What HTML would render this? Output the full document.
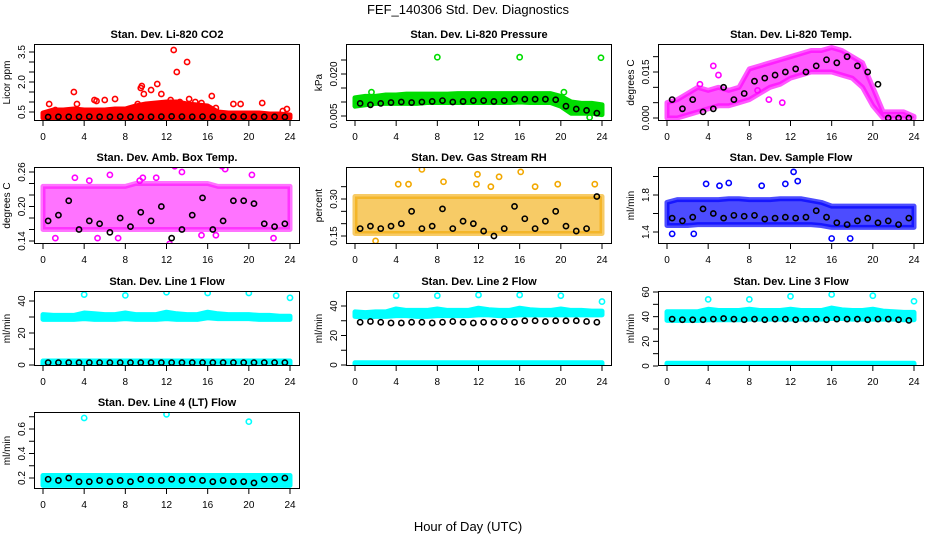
<!DOCTYPE html>
<html><head><meta charset="utf-8"><style>
html,body{margin:0;padding:0;background:#fff;}
svg text{font-family:"Liberation Sans",sans-serif;}
</style></head><body>
<svg id="chart" width="936" height="540" viewBox="0 0 936 540" xmlns="http://www.w3.org/2000/svg">
<text x="468" y="14" font-size="13" text-anchor="middle">FEF_140306  Std. Dev. Diagnostics</text>
<text x="468" y="531" font-size="13" text-anchor="middle">Hour of Day (UTC)</text>
</svg>
<script>
const hours = [0,1,2,3,4,5,6,7,8,9,10,11,12,13,14,15,16,17,18,19,20,21,22,23,24];
const xTicks = [0,4,8,12,16,20,24];
const titles = ["Stan. Dev. Li-820 CO2","Stan. Dev. Li-820 Pressure","Stan. Dev. Li-820 Temp.","Stan. Dev. Amb. Box Temp.","Stan. Dev. Gas Stream RH","Stan. Dev. Sample Flow","Stan. Dev. Line 1 Flow","Stan. Dev. Line 2 Flow","Stan. Dev. Line 3 Flow","Stan. Dev. Line 4 (LT) Flow"];
const yTitles = ["Licor ppm","kPa","degrees C","degrees C","percent","ml/min","ml/min","ml/min","ml/min","ml/min"];
const colors = ["#ff0000","#00dd00","#ff00ff","#ff00ff","#f2a800","#0000ff","#00ffff","#00ffff","#00ffff","#00ffff"];
const yTickVals = [[0.5,1,1.5,2,2.5,3,3.5],[0.005,0.01,0.015,0.02,0.025],[0,0.005,0.01,0.015,0.02],[0.14,0.16,0.18,0.2,0.22,0.24,0.26],[0.15,0.2,0.25,0.3,0.35],[1.4,1.6,1.8,2.0],[0,10,20,30,40],[0,10,20,30,40],[0,10,20,30,40,50,60],[0.2,0.3,0.4,0.5,0.6,0.7]];
const yTickLabels = [["0.5","","","2.0","","","3.5"],["0.005","","","0.020",""],["0.000","","","0.015",""],["0.14","","","0.20","","","0.26"],["0.15","","","0.30",""],["1.4","","1.8",""],["0","","20","","40"],["0","","20","","40"],["0","","20","","40","","60"],["0.2","","0.4","","0.6",""]];
const bandLo = [
 [[0.2,0.2,0.2,0.2,0.2,0.2,0.2,0.2,0.2,0.2,0.2,0.2,0.2,0.2,0.2,0.2,0.2,0.2,0.2,0.2,0.2,0.2,0.2,0.2,0.2]],
 [[0.0085,0.009,0.0095,0.0095,0.0095,0.0095,0.0095,0.0098,0.0098,0.0098,0.0098,0.0098,0.0098,0.0098,0.0098,0.0098,0.01,0.0098,0.0098,0.0098,0.0085,0.006,0.006,0.006,0.0055]],
 [[0,0,0.001,0.002,0.003,0.004,0.004,0.005,0.006,0.008,0.01,0.011,0.013,0.014,0.015,0.015,0.015,0.014,0.013,0.01,0.004,0,0,0,0]],
 [[0.16,0.16,0.16,0.16,0.16,0.16,0.16,0.16,0.16,0.16,0.16,0.16,0.16,0.16,0.16,0.16,0.16,0.16,0.16,0.16,0.16,0.16,0.16,0.16,0.16]],
 [[0.16,0.16,0.16,0.16,0.16,0.16,0.16,0.16,0.16,0.16,0.16,0.16,0.16,0.16,0.16,0.16,0.16,0.16,0.16,0.16,0.16,0.16,0.16,0.16,0.16]],
 [[1.47,1.47,1.47,1.48,1.48,1.48,1.48,1.48,1.48,1.48,1.48,1.48,1.48,1.48,1.48,1.47,1.45,1.45,1.45,1.45,1.45,1.45,1.45,1.45,1.45]],
 [[28.5,28.5,28.5,28.5,29,28.5,28.5,28.5,29,28.5,28.5,28.5,29,28.5,28.5,28.5,29.5,29,29,29,29,28.5,28.5,28.5,28.5],[0,0,0,0,0,0,0,0,0,0,0,0,0,0,0,0,0,0,0,0,0,0,0,0,0]],
 [[33,32.5,33,33,33.5,33.5,33,33,33.5,33.5,33.5,33.5,34,34,33.5,33.5,34,34,34,34,34,34,34,34,34],[0,0,0,0,0,0,0,0,0,0,0,0,0,0,0,0,0,0,0,0,0,0,0,0,0]],
 [[37,37,37,37,37.5,37.5,37.5,37.5,38,38,38,38,38,38,38,38,38.5,38.5,38,38,38,38,38,37.5,37.5],[0,0,0,0,0,0,0,0,0,0,0,0,0,0,0,0,0,0,0,0,0,0,0,0,0]],
 [[0.14,0.14,0.14,0.14,0.14,0.14,0.14,0.14,0.14,0.14,0.14,0.14,0.14,0.14,0.14,0.14,0.14,0.14,0.14,0.14,0.14,0.14,0.14,0.14,0.14]]
];
const bandHi = [
 [[0.45,0.6,0.6,0.65,0.6,0.6,0.6,0.65,0.65,0.8,0.9,0.95,1.0,1.0,0.9,0.85,0.8,0.5,0.45,0.45,0.45,0.45,0.4,0.4,0.35]],
 [[0.0115,0.012,0.012,0.0125,0.0125,0.0128,0.0128,0.0128,0.0128,0.0128,0.013,0.013,0.013,0.013,0.013,0.013,0.013,0.013,0.013,0.013,0.012,0.01,0.0095,0.0095,0.009]],
 [[0.005,0.006,0.008,0.01,0.009,0.01,0.009,0.01,0.016,0.017,0.018,0.019,0.02,0.021,0.022,0.022,0.023,0.022,0.02,0.018,0.01,0.002,0.002,0.002,0.0005]],
 [[0.235,0.235,0.235,0.235,0.235,0.235,0.235,0.235,0.235,0.24,0.24,0.24,0.24,0.24,0.24,0.24,0.24,0.235,0.235,0.235,0.235,0.235,0.235,0.235,0.235]],
 [[0.31,0.31,0.31,0.31,0.31,0.31,0.31,0.31,0.31,0.31,0.31,0.31,0.31,0.31,0.31,0.31,0.31,0.31,0.31,0.31,0.31,0.31,0.31,0.31,0.31]],
 [[1.72,1.75,1.75,1.75,1.75,1.75,1.76,1.76,1.75,1.75,1.75,1.76,1.76,1.76,1.74,1.72,1.68,1.68,1.68,1.68,1.68,1.68,1.68,1.68,1.68]],
 [[31.5,31,31,31,32.5,32,31.5,31.5,32.5,31.5,31.5,31.5,33,32,31.5,31.5,33,32,31.5,31.5,31.5,31,31,30.5,30.5],[2.5,2.5,2.5,2.5,2.5,2.5,2.5,2.5,2.5,2.5,2.5,2.5,2.5,2.5,2.5,2.5,2.5,2.5,2.5,2.5,2.5,2.5,2.5,2.5,2.5]],
 [[36,35.5,36,36,38,37,37,37,38,37,37,37,38.5,37.5,37,37,38.5,37.5,37,37,38,37,37,36.5,36.5],[1.5,1.5,1.5,1.5,1.5,1.5,1.5,1.5,1.5,1.5,1.5,1.5,1.5,1.5,1.5,1.5,1.5,1.5,1.5,1.5,1.5,1.5,1.5,1.5,1.5]],
 [[44,44,44,44,46,45,45,45,46,45,45,45,46,45,45,45,47,45.5,45,45,46,44.5,44,43.5,43.5],[2.2,2.2,2.2,2.2,2.2,2.2,2.2,2.2,2.2,2.2,2.2,2.2,2.2,2.2,2.2,2.2,2.2,2.2,2.2,2.2,2.2,2.2,2.2,2.2,2.2]],
 [[0.22,0.22,0.22,0.22,0.22,0.22,0.22,0.22,0.22,0.22,0.22,0.22,0.22,0.22,0.22,0.22,0.22,0.22,0.22,0.22,0.22,0.22,0.22,0.22,0.22]]
];
const outX = [
 [0.6,1.2,3,3.3,5,5.2,6,7,9.2,9.5,9.6,9.8,10.5,11.1,11.5,12.4,12.7,13,13.3,14,14.2,14.8,15.4,16.4,16.8,18.5,19.2,21.3,23.3,23.7],
 [8,16,23.9,1.6,20.3,22.8],
 [4.5,5,3.2,8.8,9.9,11.2],
 [3.1,4.5,6.5,8.2,9.4,12.8,13.5,17.4,17.7,20.3,1.2,5.3,7.3,12.3,12.4,22.4,15.4,16.8,11,9.7],
 [6.5,11.9,14,16.1,8.6,4.2,5.2,19.7,23.3,17.5,2,11.8,13.2],
 [12.3,6,11.5,12.7,3.8,0.5,16,17.8,2.6,9.2,5.1],
 [4,8,12,16,20,24],
 [4,8,12,16,20,24],
 [4,8,12,16,20,24],
 [4,12,20]
];
const outY = [
 [0.9,0.6,1.5,0.9,1.1,1.05,1.1,1.15,0.9,1.7,1.8,1.4,1.6,1.9,1.4,1.1,3.6,2.5,1.0,3.0,1.15,1.0,0.95,1.3,0.7,0.9,0.9,0.95,0.55,0.65],
 [0.026,0.026,0.0258,0.0135,0.0135,0.0045],
 [0.017,0.014,0.011,0.009,0.006,0.005],
 [0.25,0.245,0.255,0.275,0.245,0.27,0.26,0.27,0.265,0.255,0.145,0.145,0.145,0.135,0.13,0.145,0.15,0.15,0.25,0.25],
 [0.42,0.4,0.39,0.41,0.37,0.36,0.36,0.36,0.36,0.35,0.13,0.36,0.35],
 [2.05,1.93,1.92,1.95,1.92,1.38,1.33,1.33,1.38,1.9,1.9],
 [44,43.5,45.5,45,45,42],
 [47,47,47.5,47.5,47,43],
 [54,54,56.5,58,57,52.5],
 [0.69,0.72,0.66]
];
const blackVals = [
 [0.25,0.26,0.26,0.26,0.27,0.26,0.26,0.27,0.26,0.26,0.26,0.27,0.28,0.27,0.26,0.27,0.26,0.26,0.26,0.27,0.26,0.26,0.26,0.25],
 [0.0095,0.009,0.0095,0.0098,0.01,0.0098,0.01,0.0102,0.0105,0.01,0.0102,0.0105,0.0105,0.0102,0.0105,0.011,0.011,0.011,0.011,0.0108,0.0085,0.0075,0.007,0.006],
 [0.006,0.003,0.006,0.002,0.003,0.01,0.006,0.008,0.012,0.013,0.014,0.015,0.016,0.015,0.017,0.019,0.018,0.02,0.017,0.015,0.011,0,0,0],
 [0.175,0.185,0.21,0.16,0.175,0.17,0.155,0.18,0.165,0.19,0.175,0.2,0.145,0.16,0.185,0.215,0.16,0.175,0.21,0.21,0.205,0.17,0.165,0.17],
 [0.18,0.19,0.18,0.19,0.2,0.25,0.18,0.19,0.26,0.18,0.21,0.2,0.17,0.15,0.18,0.27,0.22,0.18,0.21,0.25,0.19,0.17,0.18,0.31],
 [1.55,1.52,1.56,1.65,1.6,1.55,1.58,1.57,1.58,1.54,1.55,1.56,1.55,1.56,1.63,1.56,1.5,1.48,1.52,1.55,1.5,1.52,1.48,1.55],
 [1.5,1.5,1.5,1.5,1.5,1.5,1.5,1.5,1.5,1.5,1.5,1.5,1.5,1.5,1.5,1.5,1.5,1.5,1.5,1.5,1.5,1.5,1.5,1.5],
 [29,29.5,29,28.5,28.5,29,29,28.5,29,29.5,29,28.5,29,29,29.5,29,30,30,29.5,30,30,30,29.5,29],
 [38,37.5,37.5,37.5,38,38.5,38,37.5,38,37.5,38,38,37.5,38,38,37.5,38,38,38,37.5,38,38,37.5,37],
 [0.19,0.18,0.2,0.17,0.17,0.18,0.17,0.18,0.17,0.19,0.18,0.18,0.19,0.18,0.19,0.18,0.17,0.18,0.17,0.17,0.16,0.19,0.19,0.2]
];
const colX0 = [43,355,667];
const colBox = [[34,300],[346,612],[658,924]];
const rowBox = [[44,121],[167,244],[291,366],[412,489]];
const yRef = [[0.5,112,3.5,52],[0.005,116,0.02,74],[0,118,0.015,72],[0.14,241,0.26,172],[0.15,236,0.3,199],[1.4,232,1.8,195],[0,365,40,301],[0,365,40,306],[0,366,60,292],[0.2,478,0.6,429]];
const bandOpacity = [1,1,0.65,0.55,0.6,0.7,1,1,1,1];
const svg = document.getElementById('chart');
const NS = 'http://www.w3.org/2000/svg';
function mk(tag, attrs, parent){const e=document.createElementNS(NS,tag);for(const k in attrs)e.setAttribute(k,attrs[k]);(parent||svg).appendChild(e);return e;}
const xs = 247/24;
titles.forEach((t,p)=>{
  const col = p%3, row = Math.floor(p/3);
  const g = mk('g',{});
  
  
  const [L,R]=colBox[col],[T,B]=rowBox[row];
  const X = h=>colX0[col]+h*xs;
  const r = yRef[p]; const Y = v=>r[1]+(v-r[0])*(r[3]-r[1])/(r[2]-r[0]);
  const clip = mk('clipPath',{id:'c'+p},g); mk('rect',{x:L,y:T,width:R-L,height:B-T},clip);
  const plot = mk('g',{'clip-path':'url(#c'+p+')'},g);
  const op = bandOpacity[p];
  bandLo[p].forEach((lo,b)=>{
    const hi = bandHi[p][b];
    let pts = hours.map((h,i)=>X(h)+','+Y(hi[i]));
    pts = pts.concat(hours.slice().reverse().map((h,i)=>X(h)+','+Y(lo[24-i])));
    const poly = mk('polygon',{points:pts.join(' '),fill:colors[p],stroke:colors[p],'stroke-width':5,'stroke-linejoin':'round','fill-opacity':op,'stroke-opacity':op},plot);
    
    
  });
  outX[p].forEach((h,i)=>{
    const c = mk('circle',{cx:X(h),cy:Y(outY[p][i]),r:2.6,fill:'none',stroke:colors[p],'stroke-width':1.6},plot);
    
    
  });
  blackVals[p].forEach((v,i)=>{
    const c = mk('circle',{cx:X(i+0.5),cy:Y(v),r:2.6,fill:'none',stroke:'#000','stroke-width':1.6},plot);
    
    
  });
  const box = mk('rect',{x:L+0.5,y:T+0.5,width:R-L-1,height:B-T-1,fill:'none',stroke:'#000','stroke-width':1},g);
  
  
  xTicks.forEach(h=>{
    mk('line',{x1:X(h),x2:X(h),y1:B,y2:B+5,stroke:'#000'},g);
    const tx = mk('text',{x:X(h),y:B+19,'font-size':10,'text-anchor':'middle'},g);
    tx.textContent = h;
    
    
  });
  yTickVals[p].forEach((v,i)=>{
    const y = Y(v);
    mk('line',{x1:L-5,x2:L,y1:y,y2:y,stroke:'#000'},g);
    if(yTickLabels[p][i]){
      const tx = mk('text',{x:L-9,y:y,'font-size':10,'text-anchor':'middle',transform:'rotate(-90 '+(L-9)+' '+y+')'},g);
      tx.textContent = yTickLabels[p][i];
      
      
    }
  });
  const yt = mk('text',{x:L-24,y:(T+B)/2,'font-size':10,'text-anchor':'middle',transform:'rotate(-90 '+(L-24)+' '+(T+B)/2+')'},g);
  yt.textContent = yTitles[p];
  
  
  const tt = mk('text',{x:(L+R)/2,y:T-6,'font-size':11,'font-weight':'bold','text-anchor':'middle'},g);
  tt.textContent = t;
  
  
});
</script>
</body></html>
